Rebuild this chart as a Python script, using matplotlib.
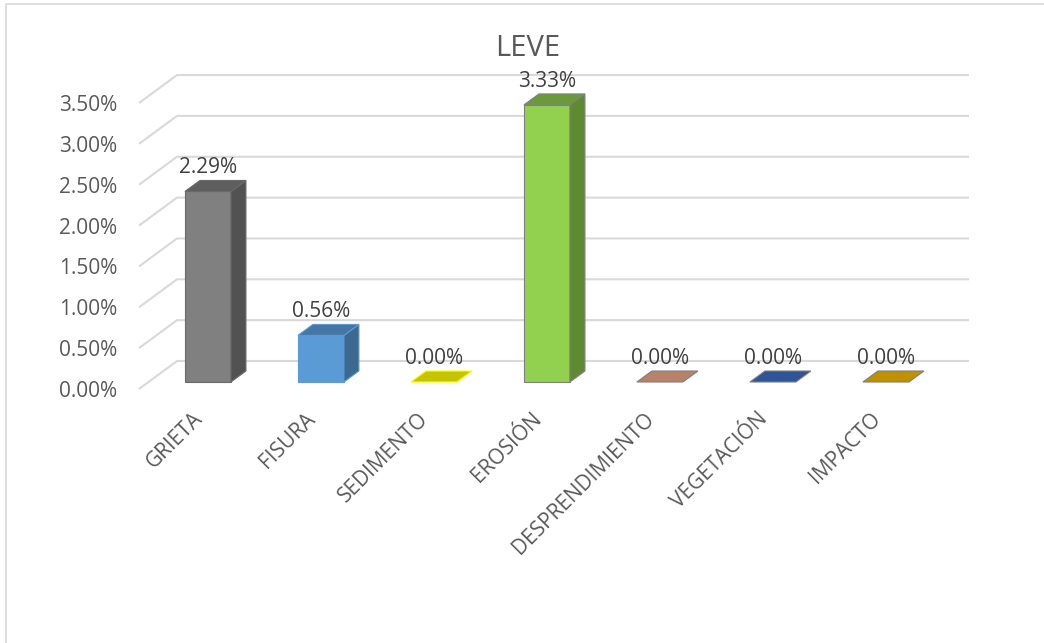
import numpy as np
import matplotlib
matplotlib.use('Agg')
import matplotlib.pyplot as plt
from matplotlib.patches import Polygon, Rectangle

plt.rcParams['font.family'] = ['Open Sans', 'DejaVu Sans']

## DATOS ##
categorias = ['GRIETA', 'FISURA', 'SEDIMENTO', 'EROSIÓN', 'DESPRENDIMIENTO', 'VEGETACIÓN', 'IMPACTO']
valores = [2.29, 0.56, 0.00, 3.33, 0.00, 0.00, 0.00]   # en %
ticks = [0, 0.5, 1.0, 1.5, 2.0, 2.5, 3.0, 3.5]

## COLORES ##
c_frente = ['#808080', '#5b9bd5', '#ffff00', '#92d050', '#c58a6a', '#2f5597', '#bf9000']
c_tapa = ['#5e5e5e', '#4676a6', '#c4c400', '#6b9a3a', '#b8826a', '#2f5597', '#bf9000']
c_lado = ['#525252', '#3d6890', '#a0a000', '#5e8a32', '#9a6a52', '#243f70', '#9a7400']
c_borde = ['#6a6a6a', '#5b9bd5', '#ffff00', '#7f7f7f', '#7f7f7f', '#7f7f7f', '#7f7f7f']

## GEOMETRIA (unidades: categoria en x, % en y) ##
px_x = 113.0    # px por categoria
px_y = 81.7     # px por 1% (plano frontal)
esc = 83.2/px_y  # las barras se ven un poco mas altas (perspectiva)
dxw, dyw = 38/px_x, 28/px_y      # profundidad del fondo
fy = 7/px_y                      # base de la barra (algo detras del frente)
bdx, bdy = 15/px_x, 11/px_y      # profundidad de la barra
w = 46/px_x
xoff = 0.11
xmax = -0.5 + (969-139)/px_x
ymax = (389-73)/px_y

fig = plt.figure(figsize=(10.44, 6.43), dpi=100)
ax = fig.add_axes([139/1044, (643-389)/643, (969-139)/1044, (389-73)/643])
ax.set_xlim(-0.5, xmax)
ax.set_ylim(0, ymax)
for sp in ax.spines.values():
    sp.set_visible(False)

# rejilla: pared lateral + fondo
for t in ticks:
    ax.plot([-0.5, -0.5+dxw, xmax], [t, t+dyw, t+dyw], color='#d9d9d9', lw=1.5,
            solid_capstyle='butt', zorder=1, clip_on=False)

# barras 3D
for i, v in enumerate(valores):
    xc = i + xoff
    x0, x1 = xc - w/2, xc + w/2
    h = v*esc
    y0, y1 = fy, fy + h
    if v > 0:
        ax.bar(xc, h, width=w, bottom=y0, color=c_frente[i], edgecolor=c_borde[i],
               lw=0.8, zorder=3)
        lado = [(x1, y0), (x1+bdx, y0+bdy), (x1+bdx, y1+bdy), (x1, y1)]
        ax.add_patch(Polygon(lado, closed=True, fc=c_lado[i], ec=c_borde[i], lw=0.8, zorder=3))
    tapa = [(x0, y1), (x1, y1), (x1+bdx, y1+bdy), (x0+bdx, y1+bdy)]
    ax.add_patch(Polygon(tapa, closed=True, fc=c_tapa[i], ec=c_borde[i], lw=0.8, zorder=3))
    ax.annotate('%.2f%%' % v, (xc, y1+bdy), xytext=(0, 1.5), textcoords='offset points',
                ha='center', va='bottom', fontsize=15, color='#404040', zorder=4)

ax.set_yticks(ticks)
ax.set_yticklabels(['%.2f%%' % t for t in ticks])
ax.tick_params(axis='y', length=0, pad=15.5, labelsize=15, labelcolor='#595959')
ax.set_xticks(np.arange(len(categorias)) + 0.1)
ax.set_xticklabels(categorias, rotation=45, ha='right')
ax.tick_params(axis='x', length=0, pad=14, labelsize=15, labelcolor='#595959')

fig.text(528/1044, 1-48.5/643, 'LEVE', ha='center', va='center', fontsize=21, color='#595959')

# marco del grafico
fig.add_artist(Rectangle((6/1044, -0.05), 1.1, 1.05 - 4/643, fill=False, ec='#d9d9d9',
                         lw=1.2, transform=fig.transFigure))

plt.savefig('out.png', dpi=100)
